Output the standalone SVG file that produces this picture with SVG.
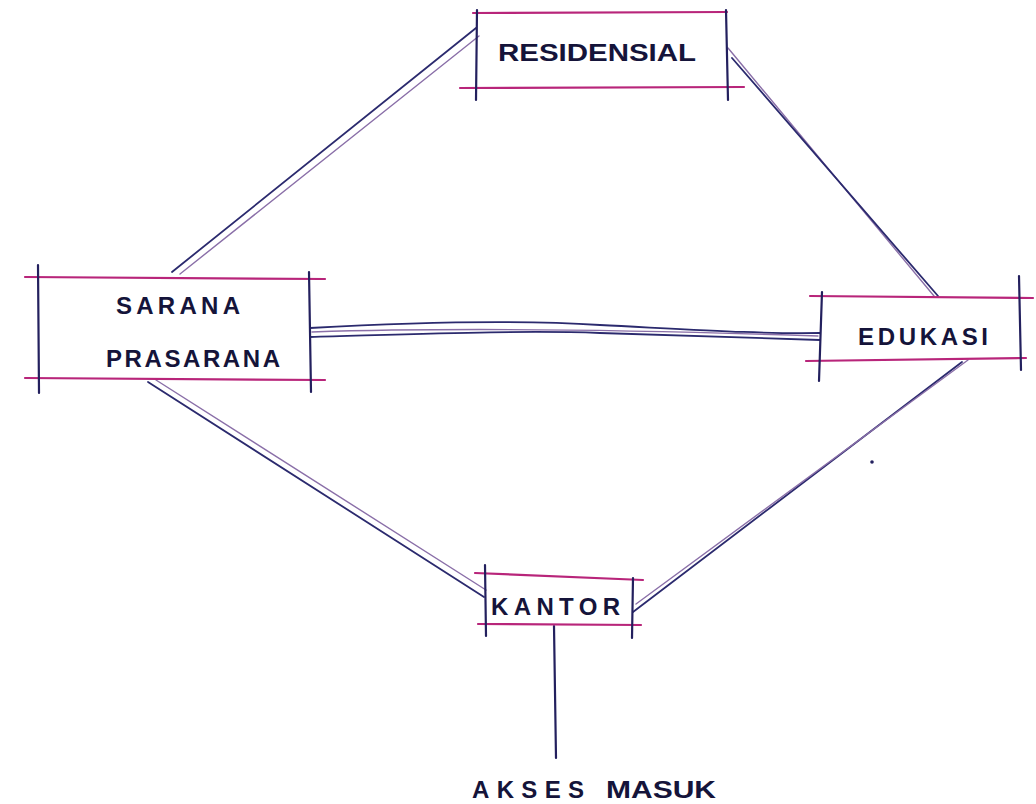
<svg xmlns="http://www.w3.org/2000/svg" width="1036" height="804" viewBox="0 0 1036 804">
<style>
.h{stroke:#b8257a;stroke-width:2.2;fill:none;stroke-linecap:round}
.v{stroke:#23205e;stroke-width:2.2;fill:none;stroke-linecap:round}
.c{stroke:#2b2a6e;stroke-width:1.8;fill:none;stroke-linecap:round}
.c2{stroke:#8a6fa8;stroke-width:1.4;fill:none;stroke-linecap:round}
.t{font-family:"Liberation Sans",Arial,sans-serif;font-weight:bold;fill:#15143a;font-size:24px}
</style>
<rect width="1036" height="804" fill="#ffffff"/>
<g id="connectors">
<path class="c" d="M172,272 L476,28"/>
<path class="c2" d="M180,274 L479,36"/>
<path class="c2" d="M728,48 L934,296"/>
<path class="c" d="M732,58 L938,296"/>
<path class="c" d="M310,328 C420,322 520,320 600,325 C700,330 760,334 820,333"/>
<path class="c" d="M310,337 C420,334 520,330 600,333 C700,336 760,338 820,340"/>
<path class="c2" d="M312,332 C500,326 700,332 818,336"/>
<path class="c" d="M148,382 L484,597"/>
<path class="c2" d="M156,380 L486,590"/>
<path class="c" d="M633,612 L962,362"/>
<path class="c2" d="M636,604 L968,360"/>
<path class="v" d="M554,626 L556,758"/>
<circle cx="872" cy="462" r="1.8" fill="#23205e"/>
</g>
<g id="residensial">
<path class="h" d="M473,13 L727,12"/>
<path class="h" d="M460,88 L744,87"/>
<path class="v" d="M477,10 L476,100"/>
<path class="v" d="M726,10 L728,100"/>
<text class="t" x="498" y="61" textLength="198" lengthAdjust="spacingAndGlyphs">RESIDENSIAL</text>
</g>
<g id="sarana-prasarana">
<path class="h" d="M25,277 L325,279"/>
<path class="h" d="M25,378 L325,380"/>
<path class="v" d="M38,265 L39,393"/>
<path class="v" d="M309,272 L311,392"/>
<text class="t" x="116" y="314" textLength="124" lengthAdjust="spacing">SARANA</text>
<text class="t" x="106" y="367" textLength="174" lengthAdjust="spacing">PRASARANA</text>
</g>
<g id="edukasi">
<path class="h" d="M810,296 L1033,298"/>
<path class="h" d="M806,361 L1026,358"/>
<path class="v" d="M822,292 L819,381"/>
<path class="v" d="M1019,276 L1021,370"/>
<text class="t" x="858" y="345" textLength="130" lengthAdjust="spacing">EDUKASI</text>
</g>
<g id="kantor">
<path class="h" d="M475,573 L643,580"/>
<path class="h" d="M478,624 L641,625"/>
<path class="v" d="M485,565 L486,636"/>
<path class="v" d="M633,578 L632,638"/>
<text class="t" x="491" y="615" textLength="129" lengthAdjust="spacing">KANTOR</text>
</g>
<g id="akses-masuk">
<text class="t" x="472" y="798" textLength="112" lengthAdjust="spacing">AKSES</text>
<text class="t" x="606" y="798" textLength="110" lengthAdjust="spacingAndGlyphs">MASUK</text>
</g>
</svg>
